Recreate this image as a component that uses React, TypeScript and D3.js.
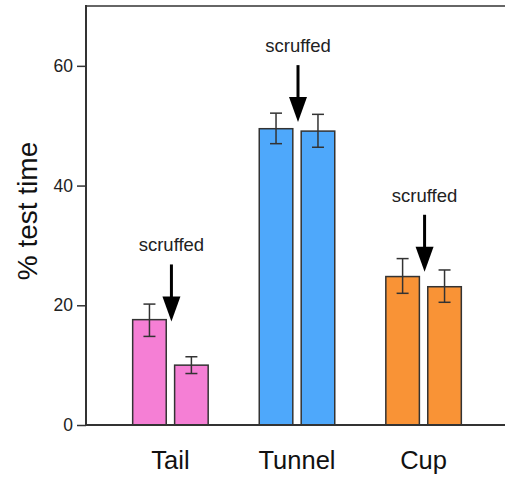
import React, { useEffect, useRef } from "react";
import * as d3 from "d3";

const categories = ["Tail", "Tunnel", "Cup"];
const colors = ["#f57fd5", "#4ea8fb", "#f99336"];
// two bars per category: scruffed first, then the second bar
const means = [
  [17.6, 10.0],
  [49.5, 49.1],
  [24.8, 23.1],
];
const errHigh = [
  [20.2, 11.4],
  [52.1, 51.9],
  [27.8, 25.9],
];
const errLow = [
  [14.8, 8.6],
  [47.0, 46.4],
  [22.0, 20.5],
];
// where the "scruffed" arrow tip points, in % test time
const arrowTips = [17.3, 50.6, 25.6];
const yTicks = [0, 20, 40, 60];

const App = () => {
  const chartRef = useRef<SVGSVGElement>(null);

  useEffect(() => {
    document.body.style.margin = "0";
    const width = 505;
    const height = 479;
    const left = 86;
    const right = 508;
    const top = 6;
    const bottom = 425;

    const svg = d3.select(chartRef.current).attr("width", width).attr("height", height);
    svg.selectAll("*").remove();

    const font = "'Liberation Sans', Arial, sans-serif";

    const x = d3.scalePoint<string>().domain(categories).range([left, right]).padding(0.667);
    const xInner = d3
      .scaleBand<number>()
      .domain([0, 1])
      .range([-37.75, 37.75])
      .paddingInner(0.2);
    const y = d3.scaleLinear().domain([0, 70]).range([bottom, top]);

    // frame: top and bottom lines run off the right edge
    svg
      .append("line")
      .attr("x1", left)
      .attr("x2", width + 5)
      .attr("y1", top)
      .attr("y2", top)
      .attr("stroke", "#666")
      .attr("stroke-width", 2);

    // bars
    categories.forEach((c, i) => {
      const g = svg.append("g").attr("transform", `translate(${x(c)},0)`);
      [0, 1].forEach((j) => {
        g.append("rect")
          .attr("x", xInner(j)!)
          .attr("y", y(means[i][j]))
          .attr("width", xInner.bandwidth())
          .attr("height", y(0) - y(means[i][j]))
          .attr("fill", colors[i])
          .attr("stroke", "#333")
          .attr("stroke-width", 1.5);
        const cx = xInner(j)! + xInner.bandwidth() / 2;
        g.append("line")
          .attr("x1", cx)
          .attr("x2", cx)
          .attr("y1", y(errLow[i][j]))
          .attr("y2", y(errHigh[i][j]))
          .attr("stroke", "#333")
          .attr("stroke-width", 1.5);
        [errLow[i][j], errHigh[i][j]].forEach((v) => {
          g.append("line")
            .attr("x1", cx - 6)
            .attr("x2", cx + 6)
            .attr("y1", y(v))
            .attr("y2", y(v))
            .attr("stroke", "#333")
            .attr("stroke-width", 1.5);
        });
      });

      // scruffed annotation
      const tip = y(arrowTips[i]);
      const ax = 1;
      g.append("line")
        .attr("x1", ax)
        .attr("x2", ax)
        .attr("y1", tip - 57)
        .attr("y2", tip - 20)
        .attr("stroke", "#000")
        .attr("stroke-width", 3);
      g.append("path")
        .attr("d", `M${ax - 9},${tip - 25} L${ax + 9},${tip - 25} L${ax},${tip} Z`)
        .attr("fill", "#000");
      g.append("text")
        .attr("x", ax)
        .attr("y", tip - 70)
        .attr("text-anchor", "middle")
        .attr("font-family", font)
        .attr("font-size", 18.5)
        .attr("fill", "#222")
        .text("scruffed");

      // category label
      svg
        .append("text")
        .attr("x", x(c)!)
        .attr("y", 469)
        .attr("text-anchor", "middle")
        .attr("font-family", font)
        .attr("font-size", 25.5)
        .attr("fill", "#111")
        .text(c);
    });

    // bottom axis line
    svg
      .append("line")
      .attr("x1", left)
      .attr("x2", width + 5)
      .attr("y1", bottom)
      .attr("y2", bottom)
      .attr("stroke", "#333")
      .attr("stroke-width", 2);

    // y axis
    const yAxis = svg
      .append("g")
      .attr("transform", `translate(${left},0)`)
      .call(d3.axisLeft(y).tickValues(yTicks).tickSize(9).tickPadding(4));
    yAxis.select(".domain").remove();
    yAxis.selectAll(".tick line").attr("stroke", "#333").attr("stroke-width", 1.5);
    yAxis
      .selectAll(".tick text")
      .attr("font-family", font)
      .attr("font-size", 17.5)
      .attr("fill", "#222");
    svg
      .append("line")
      .attr("x1", left)
      .attr("x2", left)
      .attr("y1", top - 1)
      .attr("y2", bottom + 1)
      .attr("stroke", "#333")
      .attr("stroke-width", 2);

    svg
      .append("text")
      .attr("transform", `translate(37,211) rotate(-90)`)
      .attr("text-anchor", "middle")
      .attr("font-family", font)
      .attr("font-size", 28)
      .attr("fill", "#111")
      .text("% test time");
  }, []);

  return (
    <div>
      <svg ref={chartRef} style={{ display: "block" }}></svg>
    </div>
  );
};

export default App;
